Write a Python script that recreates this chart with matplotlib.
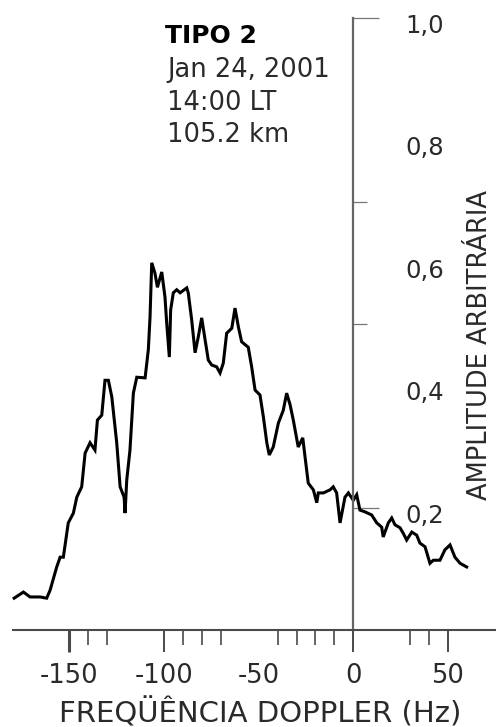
import matplotlib
matplotlib.use("Agg")
import matplotlib.pyplot as plt

plt.rcParams['font.family'] = ['DejaVu Sans']

# Doppler spectrum (type 2 echo)
freq = [-179.2, -174.3, -170.8, -165.5, -162.0, -160.2, -156.7, -154.9, -153.2, -150.6,
        -147.9, -146.1, -143.5, -141.7, -139.1, -136.5, -135.2, -132.9, -131.2, -129.4,
        -127.6, -125.0, -123.2, -121.1, -120.6, -119.7, -118.0, -116.2, -114.4, -110.0,
        -108.3, -107.4, -106.5, -104.8, -103.5, -101.2, -99.5, -98.6, -97.2, -96.5,
        -95.1, -93.3, -91.5, -88.0, -87.2, -85.4, -83.6, -81.9, -80.1, -78.3,
        -76.6, -74.8, -72.2, -70.4, -68.7, -66.9, -64.2, -62.5, -60.7, -59.0,
        -55.5, -53.7, -51.9, -49.3, -47.5, -45.7, -44.4, -42.3, -39.6, -37.0,
        -35.2, -33.4, -31.7, -29.1, -26.7, -25.5, -23.8, -21.1, -19.3, -18.5,
        -15.8, -12.3, -10.6, -8.8, -7.0, -4.4, -2.6, 0.0, 1.8, 3.5,
        6.2, 9.7, 12.4, 15.0, 15.8, 18.5, 20.3, 22.0, 24.7, 26.4,
        28.2, 30.9, 33.5, 35.2, 37.9, 40.5, 42.3, 45.8, 48.4, 51.1,
        53.7, 56.4, 59.9]
amp = [0.052, 0.062, 0.054, 0.054, 0.052, 0.065, 0.103, 0.119, 0.119, 0.175,
       0.191, 0.217, 0.234, 0.289, 0.306, 0.294, 0.343, 0.351, 0.408, 0.408,
       0.381, 0.306, 0.234, 0.217, 0.191, 0.245, 0.294, 0.387, 0.413, 0.412,
       0.458, 0.511, 0.600, 0.583, 0.560, 0.585, 0.544, 0.502, 0.446, 0.523,
       0.551, 0.556, 0.551, 0.559, 0.551, 0.507, 0.453, 0.479, 0.510, 0.474,
       0.441, 0.433, 0.430, 0.420, 0.436, 0.485, 0.493, 0.526, 0.495, 0.471,
       0.462, 0.430, 0.392, 0.384, 0.348, 0.306, 0.286, 0.299, 0.338, 0.359,
       0.387, 0.368, 0.343, 0.299, 0.314, 0.283, 0.240, 0.229, 0.208, 0.224,
       0.224, 0.229, 0.234, 0.224, 0.175, 0.217, 0.224, 0.212, 0.221, 0.196,
       0.193, 0.188, 0.175, 0.168, 0.152, 0.175, 0.183, 0.172, 0.167, 0.158,
       0.147, 0.160, 0.155, 0.142, 0.136, 0.109, 0.114, 0.114, 0.131, 0.139,
       0.119, 0.109, 0.103]

x_major = [-150, -100, -50, 0, 50]
x_major_labels = ['-150', '-100', '-50', '0', '50']
x_minor = [-140, -130, -90, -80, -70, -40, -30, -20, -10, 30, 40]
y_long_ticks = [0.2, 1.0]
y_short_ticks = [0.5, 0.7]
y_labels = [0.2, 0.4, 0.6, 0.8, 1.0]

info_title = 'TIPO 2'
info_lines = ['Jan 24, 2001', '14:00 LT', '105.2 km']

W, H = 496, 727
fig = plt.figure(figsize=(W / 100, H / 100), dpi=100)
ax = fig.add_axes([13 / W, (H - 630) / H, (W - 13) / W, 612 / H])
ax.set_xlim(-179.8, 75.4)
ax.set_ylim(0, 1.0)

ax.plot(freq, amp, color='black', lw=2.2, solid_joinstyle='miter', clip_on=False)

spine_col = '#4a4a4a'
ax.spines['top'].set_visible(False)
ax.spines['right'].set_visible(False)
ax.spines['left'].set_position(('data', 0))
ax.spines['left'].set_color('#666666')
ax.spines['left'].set_linewidth(1.6)
ax.spines['bottom'].set_color(spine_col)
ax.spines['bottom'].set_linewidth(1.5)

# x ticks
ax.set_xticks(x_major)
ax.set_xticklabels(x_major_labels)
ax.set_xticks(x_minor, minor=True)
ax.tick_params(axis='x', which='major', direction='out', length=16, width=1.4,
               color=spine_col, labelsize=18.5, labelcolor='#2a2a2a', pad=8)
ax.tick_params(axis='x', which='minor', direction='out', length=10.5, width=1.2,
               color=spine_col)
mt = ax.xaxis.get_major_ticks()
mt[0].tick1line.set_markeredgewidth(2.2)
mt[2].tick1line.set_visible(False)

# y ticks on the central axis, pointing right
ax.set_yticks(y_long_ticks)
ax.set_yticks(y_short_ticks, minor=True)
ax.tick_params(axis='y', which='major', direction='in', length=19, width=0.9,
               color='#777777', labelleft=False)
ax.tick_params(axis='y', which='minor', direction='in', length=10, width=0.9,
               color='#777777', labelleft=False)

for v in y_labels:
    ax.annotate(f'{v:.1f}'.replace('.', ','), xy=(0, v), xytext=(52, -15),
                textcoords='offset pixels', ha='left', va='baseline',
                fontsize=17.5, color='#2a2a2a', annotation_clip=False)

fig.text(260 / W, 1 - 722 / H, 'FREQÜÊNCIA DOPPLER (Hz)', ha='center',
         va='baseline', fontsize=21, color='#2a2a2a')
fig.text(480 / W, 1 - 345 / H, 'AMPLITUDE ARBITRÁRIA', ha='center', va='center',
         rotation=90, fontsize=18.5, color='#2a2a2a')

fig.text(165 / W, 1 - 43 / H, info_title, ha='left', va='baseline',
         fontsize=18, fontweight='bold', color='black')
for i, line in enumerate(info_lines):
    fig.text(167 / W, 1 - (77 + 32.5 * i) / H, line, ha='left', va='baseline',
             fontsize=18.5, color='#2a2a2a')

fig.savefig('out.png', dpi=100)
